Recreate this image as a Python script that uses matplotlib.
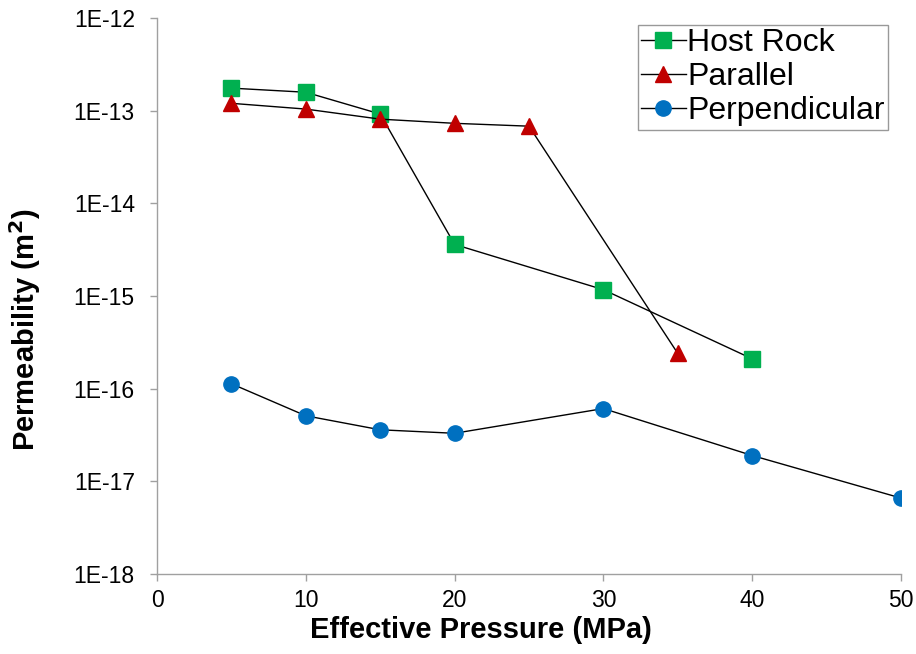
import matplotlib
matplotlib.use("Agg")
import matplotlib.pyplot as plt
from matplotlib.ticker import FixedLocator, FixedFormatter, NullLocator

plt.rcParams['font.family'] = ['Liberation Sans', 'DejaVu Sans']

host_x = [5, 10, 15, 20, 30, 40]
host_y = [1.75e-13, 1.58e-13, 9.2e-14, 3.6e-15, 1.17e-15, 2.1e-16]
par_x = [5, 10, 15, 20, 25, 35]
par_y = [1.2e-13, 1.04e-13, 8.1e-14, 7.3e-14, 6.8e-14, 2.4e-16]
perp_x = [5, 10, 15, 20, 30, 40, 50]
perp_y = [1.13e-16, 5.1e-17, 3.6e-17, 3.3e-17, 6.1e-17, 1.9e-17, 6.6e-18]
yticks = [1e-18, 1e-17, 1e-16, 1e-15, 1e-14, 1e-13, 1e-12]
ytick_labels = ["1E-18", "1E-17", "1E-16", "1E-15", "1E-14", "1E-13", "1E-12"]
xticks = [0, 10, 20, 30, 40, 50]

fig = plt.figure(figsize=(9.16, 6.54), dpi=100)
ax = fig.add_axes([0.1714, 0.1223, 0.8122, 0.8502])

ax.plot(host_x, host_y, color='black', lw=1, marker='s', ms=11,
        mfc='#00B050', mec='#00B050', label='Host Rock')
ax.plot(par_x, par_y, color='black', lw=1, marker='^', ms=12,
        mfc='#C00000', mec='#C00000', label='Parallel')
ax.plot(perp_x, perp_y, color='black', lw=1, marker='o', ms=11,
        mfc='#0070C0', mec='#0070C0', label='Perpendicular')

ax.set_yscale('log')
ax.set_ylim(1e-18, 1e-12)
ax.set_xlim(0, 50)
ax.yaxis.set_major_locator(FixedLocator(yticks))
ax.yaxis.set_major_formatter(FixedFormatter(ytick_labels))
ax.yaxis.set_minor_locator(NullLocator())
ax.set_xticks(xticks)

for s in ['top', 'right']:
    ax.spines[s].set_visible(False)
for s in ['left', 'bottom']:
    ax.spines[s].set_color('#A0A0A0')
    ax.spines[s].set_linewidth(1)
ax.tick_params(axis='both', colors='#A0A0A0', labelcolor='black',
               labelsize=16.5, length=5, width=1, direction='out')
ax.tick_params(axis='x', pad=6)
ax.tick_params(axis='y', pad=11)

ax.set_xlabel('Effective Pressure (MPa)', fontsize=21, fontweight='bold', labelpad=3)
ax.xaxis.set_label_coords(0.435, -0.075)
ax.set_ylabel('Permeability (m$^\\mathbf{2}$)', fontsize=21, fontweight='bold', labelpad=22)
ax.yaxis.label.set_y(0.439)

leg = ax.legend(loc='upper right', bbox_to_anchor=(888 / 916, 1 - 25 / 654),
                bbox_transform=fig.transFigure, fontsize=23,
                frameon=True, fancybox=False, handlelength=1.4, handletextpad=0.05,
                borderpad=0.1, labelspacing=0.13, borderaxespad=0)
leg.get_frame().set_edgecolor('#808080')
leg.get_frame().set_linewidth(1)

fig.savefig('out.png', dpi=100)
